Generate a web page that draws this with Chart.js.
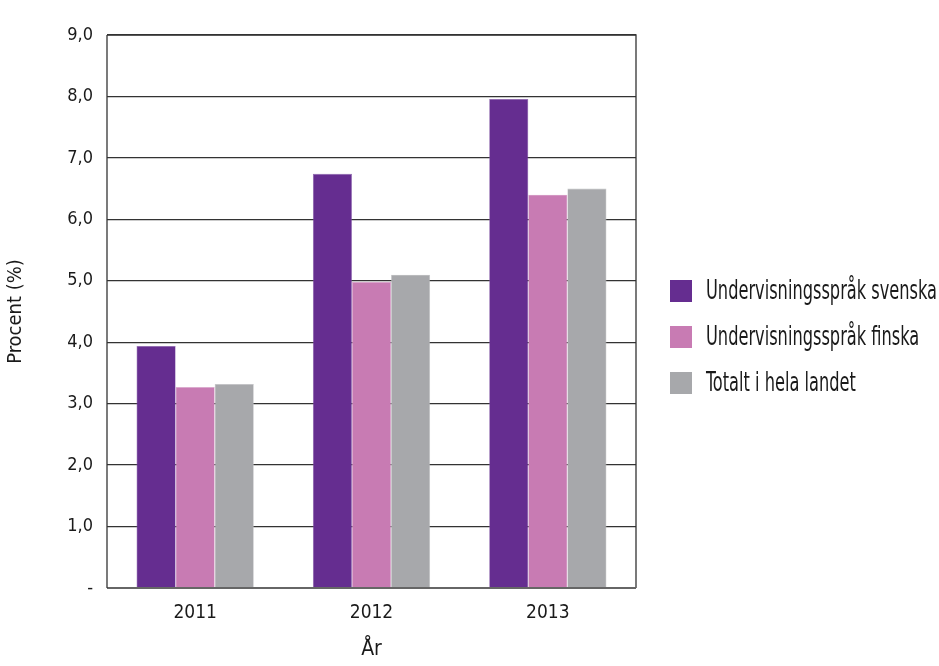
<!DOCTYPE html>
<html>
<head>
<meta charset="utf-8">
<script src="https://cdn.jsdelivr.net/npm/chart.js@4"></script>
<style>
html,body{margin:0;padding:0;background:#fff;}
#wrap{width:939px;height:666px;position:relative;}
</style>
</head>
<body>
<div id="wrap"><canvas id="c" width="939" height="666"></canvas></div>
<script>
const categories = ["2011", "2012", "2013"];
const seriesNames = ["Undervisningsspråk svenska", "Undervisningsspråk finska", "Totalt i hela landet"];
const svenska = [3.94, 6.74, 7.96];
const finska = [3.27, 4.98, 6.40];
const totalt = [3.32, 5.10, 6.50];
const yTicks = [0, 1, 2, 3, 4, 5, 6, 7, 8, 9];
const yTitle = "Procent (%)";
const xTitle = "År";

const FONT = '"Liberation Sans Narrow", "DejaVu Sans Condensed", sans-serif';
const colors = ["#652D90", "#C87BB3", "#A7A8AB"];

const boxPlugin = {
  id: 'boxPlugin',
  afterDraw(chart) {
    const {ctx, chartArea: a} = chart;
    ctx.save();
    ctx.strokeStyle = '#333';
    ctx.lineWidth = 1.3;
    ctx.beginPath();
    ctx.moveTo(a.left, a.top); ctx.lineTo(a.right, a.top); ctx.lineTo(a.right, a.bottom);
    ctx.stroke();
    ctx.strokeStyle = '#666';
    ctx.lineWidth = 2;
    ctx.beginPath();
    ctx.moveTo(a.left, a.bottom); ctx.lineTo(a.right, a.bottom);
    ctx.stroke();
    ctx.strokeStyle = '#333';
    ctx.lineWidth = 1.3;
    ctx.beginPath();
    ctx.moveTo(a.left, a.top); ctx.lineTo(a.left, a.bottom);
    ctx.stroke();
    // legend
    const ds = chart.data.datasets;
    ctx.font = '26px ' + FONT;
    ctx.textBaseline = 'middle';
    ctx.textAlign = 'left';
    const maxW = Math.max(...ds.map(d => ctx.measureText(d.label).width));
    const sx = 231 / maxW;
    ds.forEach((d, i) => {
      const cy = 291 + i * 46;
      ctx.fillStyle = d.backgroundColor;
      ctx.fillRect(670, cy - 11, 22, 22);
      ctx.fillStyle = '#1a1a1a';
      ctx.save();
      ctx.translate(706, cy + 1);
      ctx.scale(sx, 1);
      ctx.fillText(d.label, 0, 0);
      ctx.restore();
    });
    ctx.restore();
  }
};

const ctx = document.getElementById('c').getContext('2d');
new Chart(ctx, {
  type: 'bar',
  data: {
    labels: categories,
    datasets: [
      {label: seriesNames[0], data: svenska, backgroundColor: colors[0], borderColor: '#8a62ab', borderWidth: 0.6},
      {label: seriesNames[1], data: finska, backgroundColor: colors[1], borderColor: '#d9a6cb', borderWidth: 0.6},
      {label: seriesNames[2], data: totalt, backgroundColor: colors[2], borderColor: '#c4c5c7', borderWidth: 0.6}
    ]
  },
  options: {
    responsive: false,
    animation: false,
    devicePixelRatio: 1,
    layout: {padding: {top: 35, right: 303, left: 0, bottom: 0}},
    plugins: {legend: {display: false}, tooltip: {enabled: false}},
    datasets: {bar: {barPercentage: 1, categoryPercentage: 0.665}},
    scales: {
      x: {
        grid: {display: false, drawTicks: false},
        border: {display: false},
        ticks: {color: '#1a1a1a', font: {family: FONT, size: 19}, padding: 14},
        title: {display: true, text: xTitle, color: '#1a1a1a', font: {family: FONT, size: 21}, padding: {top: 16}},
        afterFit(s) { s.height = 78; }
      },
      y: {
        min: 0, max: 9,
        afterBuildTicks(s) { s.ticks = yTicks.map(v => ({value: v})); },
        grid: {color: '#333', lineWidth: 1.3, drawTicks: false},
        border: {display: false},
        ticks: {
          color: '#1a1a1a', font: {family: FONT, size: 18}, padding: 14,
          callback: v => v === 0 ? '-' : v.toFixed(1).replace('.', ',')
        },
        title: {display: true, text: yTitle, color: '#1a1a1a', font: {family: FONT, size: 20}, padding: {bottom: 6}},
        afterFit(s) { s.width = 107; }
      }
    }
  },
  plugins: [boxPlugin]
});
</script>
</body>
</html>
